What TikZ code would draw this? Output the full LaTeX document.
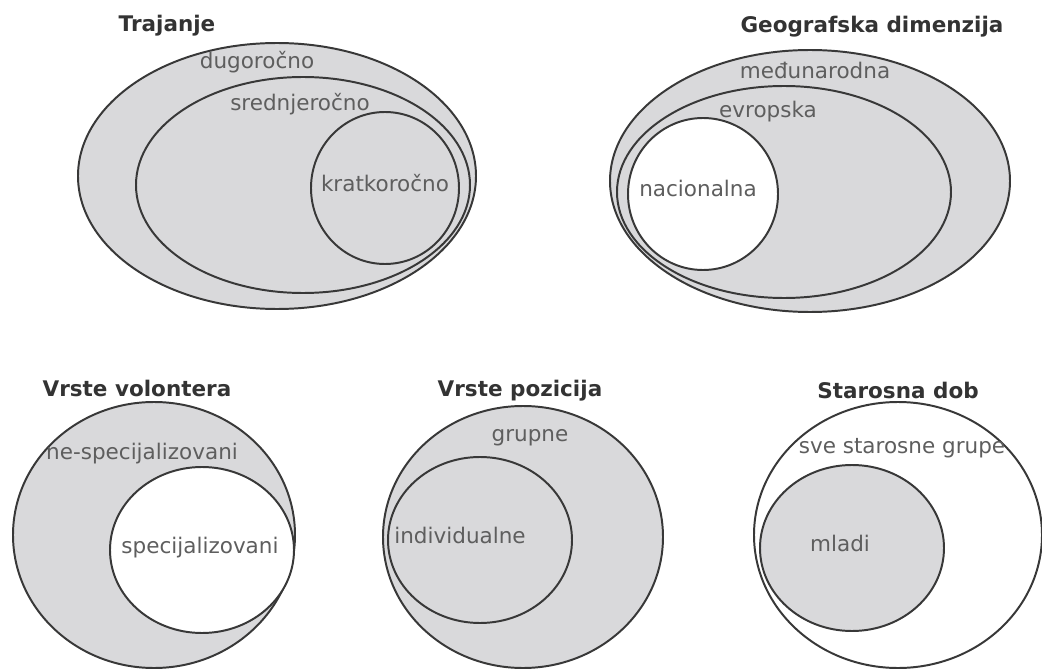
\documentclass[tikz,border=0pt]{standalone}
\usepackage{fontspec}
\setmainfont{DejaVu Sans}
\usepackage{tikz}
\usetikzlibrary{positioning}
\definecolor{setgray}{HTML}{D9D9DB}
\definecolor{linegray}{HTML}{383838}
\definecolor{txtgray}{HTML}{5E5E5E}

\begin{document}
\begin{tikzpicture}[x=0.025cm,y=-0.025cm,line width=1.4pt,
  set/.style={draw=linegray,fill=setgray},
  hole/.style={draw=linegray,fill=white},
  lbl/.style={text=txtgray,font=\fontsize{15.3}{17}\selectfont,inner sep=0pt},
  ttl/.style={text=black!80,font=\fontsize{15.3}{17}\selectfont\bfseries,inner sep=0pt}]

\useasboundingbox (0,0) rectangle (1042,670);

% Trajanje
\draw[set] (277,176) ellipse [x radius=199, y radius=133];
\draw[set] (303,185) ellipse [x radius=167, y radius=108];
\draw[set] (385,188) ellipse [x radius=74, y radius=76];
\node[ttl] (traj) at (167,26) {Trajanje};
\node[lbl] (dug) at (257,62) {dugoročno};
\node[lbl] (sred) at (300,104) {srednjeročno};
\node[lbl] (krat) at (385,183) {kratkoročno};

% Geografska dimenzija
\draw[set] (810,181) ellipse [x radius=200, y radius=131];
\draw[set] (784,192) ellipse [x radius=167, y radius=106];
\draw[hole] (703,194) ellipse [x radius=75, y radius=76];
\node[ttl] (geo) at (872,27) {Geografska dimenzija};
\node[lbl] (medj) at (815,70) {međunarodna};
\node[lbl] (evr) at (768,112) {evropska};
\node[lbl] (nac) at (698,188) {nacionalna};

% Vrste volontera
\draw[set] (154,535) ellipse [x radius=141, y radius=133];
\draw[hole] (202,550) ellipse [x radius=92, y radius=83];
\node[ttl] (vol) at (137,388) {Vrste volontera};
\node[lbl] (nespec) at (142,454) {ne-specijalizovani};
\node[lbl] (spec) at (200,548) {specijalizovani};

% Vrste pozicija
\draw[set] (523,537) ellipse [x radius=140, y radius=131];
\draw[set] (480,540) ellipse [x radius=92, y radius=83];
\node[ttl] (poz) at (520,391) {Vrste pozicija};
\node[lbl] (grup) at (530,438) {grupne};
\node[lbl] (indiv) at (460,535) {individualne};

% Starosna dob
\draw[hole] (898,535) ellipse [x radius=144, y radius=133];
\draw[set] (852,548) ellipse [x radius=92, y radius=83];
\node[ttl] (dob) at (898,390) {Starosna dob};
\node[lbl] (sve) at (902,448) {sve starosne grupe};
\node[lbl] (mladi) at (840,543) {mladi};

\end{tikzpicture}
\end{document}
